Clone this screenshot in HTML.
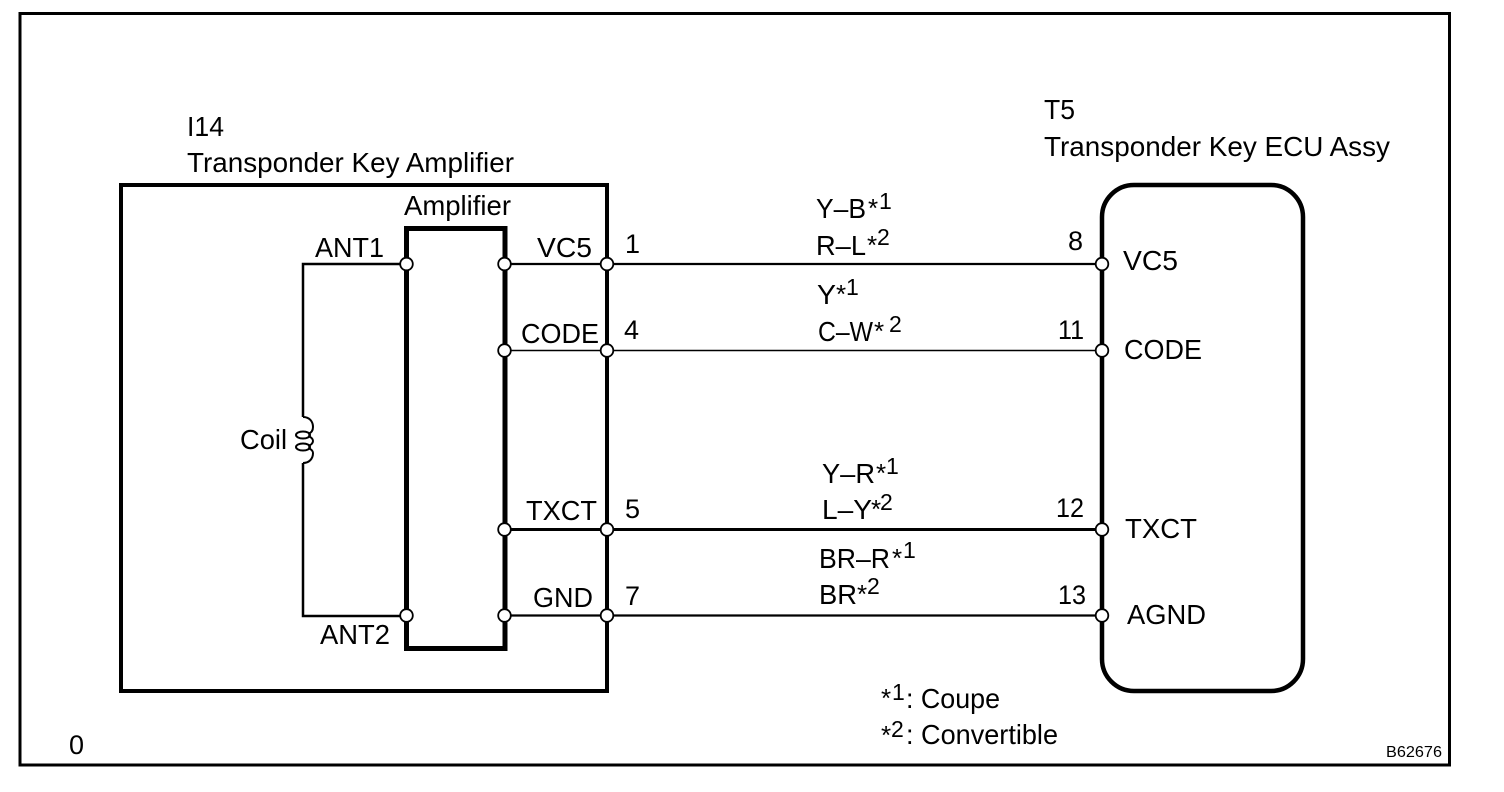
<!DOCTYPE html>
<html>
<head>
<meta charset="utf-8">
<style>
html,body{margin:0;padding:0;background:#fff;width:1504px;height:792px;overflow:hidden}
svg{display:block}
text{font-family:"Liberation Sans",Arial,sans-serif;fill:#000;font-size:28px}
.n{font-size:27px}
.st{font-size:26px}
.d{font-size:23px}
</style>
</head>
<body>
<svg width="1504" height="792" viewBox="0 0 1504 792" xmlns="http://www.w3.org/2000/svg">
<rect width="1504" height="792" fill="#fff"/>
<rect x="20" y="13.5" width="1429.5" height="751.5" fill="none" stroke="#000" stroke-width="3"/>
<!-- boxes -->
<rect x="121" y="185" width="486" height="506" fill="none" stroke="#000" stroke-width="4"/>
<rect x="406.5" y="228.5" width="98.5" height="420" fill="none" stroke="#000" stroke-width="5"/>
<rect x="1102" y="185" width="201" height="506" rx="32" ry="32" fill="none" stroke="#000" stroke-width="4.5"/>
<!-- wires -->
<g fill="none" stroke="#000">
<path d="M406 264H303V417M303 463V616H406" stroke-width="2.5"/>
<path d="M303 417C310 417 313 422 313 427C313 431 311 433 308 434M308 436C311 437 313 439 313 441C313 443 311 445 308 446M308 448C311 449 313 451 313 453C313 459 309 463 303 463" stroke-width="2"/>
<ellipse cx="303" cy="435" rx="7" ry="3.5" stroke-width="2"/>
<ellipse cx="303" cy="447" rx="7" ry="3.5" stroke-width="2"/>
<path d="M505 264H1102" stroke-width="2.2"/>
<path d="M505 350.5H1102" stroke-width="1.5"/>
<path d="M505 529.5H1102" stroke-width="3"/>
<path d="M505 615.5H1102" stroke-width="2.2"/>
</g>
<!-- terminals -->
<g fill="#fff" stroke="#000" stroke-width="1.8">
<circle cx="406.5" cy="264" r="6.3"/><circle cx="504.5" cy="264" r="6.3"/><circle cx="607" cy="264" r="6.3"/><circle cx="1102" cy="264" r="6.3"/>
<circle cx="504.5" cy="350.5" r="6.3"/><circle cx="607" cy="350.5" r="6.3"/><circle cx="1102" cy="350.5" r="6.3"/>
<circle cx="504.5" cy="529.5" r="6.3"/><circle cx="607" cy="529.5" r="6.3"/><circle cx="1102" cy="529.5" r="6.3"/>
<circle cx="406.5" cy="615.5" r="6.3"/><circle cx="504.5" cy="615.5" r="6.3"/><circle cx="607" cy="615.5" r="6.3"/><circle cx="1102" cy="615.5" r="6.3"/>
</g>
<!-- headings -->
<text x="187" y="136" textLength="37" lengthAdjust="spacingAndGlyphs">I14</text>
<text x="187" y="172" textLength="327" lengthAdjust="spacingAndGlyphs">Transponder Key Amplifier</text>
<text x="1044" y="119" textLength="31" lengthAdjust="spacingAndGlyphs">T5</text>
<text x="1044" y="156" textLength="346" lengthAdjust="spacingAndGlyphs">Transponder Key ECU Assy</text>
<text x="404" y="215" textLength="107" lengthAdjust="spacingAndGlyphs">Amplifier</text>
<!-- left labels -->
<text x="315" y="257" textLength="69" lengthAdjust="spacingAndGlyphs">ANT1</text>
<text x="320" y="644" textLength="70" lengthAdjust="spacingAndGlyphs">ANT2</text>
<text x="240" y="449" textLength="47" lengthAdjust="spacingAndGlyphs">Coil</text>
<text x="537" y="257" textLength="55" lengthAdjust="spacingAndGlyphs">VC5</text>
<text x="521" y="343" textLength="78" lengthAdjust="spacingAndGlyphs">CODE</text>
<text x="526" y="520" textLength="71" lengthAdjust="spacingAndGlyphs">TXCT</text>
<text x="533" y="607" textLength="60" lengthAdjust="spacingAndGlyphs">GND</text>
<text class="n" x="625" y="253">1</text>
<text class="n" x="624" y="339">4</text>
<text class="n" x="625" y="518">5</text>
<text class="n" x="625" y="605">7</text>
<!-- wire colours -->
<text x="816" y="218" textLength="50" lengthAdjust="spacingAndGlyphs">Y–B</text><text class="st" x="868" y="217">*</text><text class="d" x="879" y="209">1</text>
<text x="816" y="255" textLength="50" lengthAdjust="spacingAndGlyphs">R–L</text><text class="st" x="867" y="254">*</text><text class="d" x="877" y="245">2</text>
<text x="817" y="304" textLength="19" lengthAdjust="spacingAndGlyphs">Y</text><text class="st" x="836" y="303">*</text><text class="d" x="846" y="295">1</text>
<text x="818" y="341" textLength="55" lengthAdjust="spacingAndGlyphs">C–W</text><text class="st" x="874" y="340">*</text><text class="d" x="889" y="332">2</text>
<text x="822" y="483" textLength="53" lengthAdjust="spacingAndGlyphs">Y–R</text><text class="st" x="876" y="482">*</text><text class="d" x="886" y="474">1</text>
<text x="822" y="519" textLength="50" lengthAdjust="spacingAndGlyphs">L–Y</text><text class="st" x="871" y="518">*</text><text class="d" x="880" y="510">2</text>
<text x="819" y="568" textLength="71" lengthAdjust="spacingAndGlyphs">BR–R</text><text class="st" x="892" y="567">*</text><text class="d" x="903" y="558">1</text>
<text x="819" y="604" textLength="38" lengthAdjust="spacingAndGlyphs">BR</text><text class="st" x="857" y="603">*</text><text class="d" x="867" y="594">2</text>
<!-- right numbers -->
<text class="n" x="1068" y="250">8</text>
<text class="n" x="1058" y="339" textLength="26" lengthAdjust="spacingAndGlyphs">11</text>
<text class="n" x="1056" y="517" textLength="28" lengthAdjust="spacingAndGlyphs">12</text>
<text class="n" x="1058" y="604" textLength="28" lengthAdjust="spacingAndGlyphs">13</text>
<!-- right labels -->
<text x="1123" y="270" textLength="55" lengthAdjust="spacingAndGlyphs">VC5</text>
<text x="1124" y="359" textLength="78" lengthAdjust="spacingAndGlyphs">CODE</text>
<text x="1125" y="538" textLength="72" lengthAdjust="spacingAndGlyphs">TXCT</text>
<text x="1127" y="624" textLength="79" lengthAdjust="spacingAndGlyphs">AGND</text>
<!-- legend -->
<text class="st" x="881" y="707">*</text><text class="d" x="892" y="700">1</text>
<text x="906" y="708" textLength="94" lengthAdjust="spacingAndGlyphs">: Coupe</text>
<text class="st" x="881" y="744">*</text><text class="d" x="891" y="737">2</text>
<text x="906" y="744" textLength="152" lengthAdjust="spacingAndGlyphs">: Convertible</text>
<text class="n" x="69" y="754">0</text>
<text x="1386" y="757" style="font-size:16px" textLength="56" lengthAdjust="spacingAndGlyphs">B62676</text>
</svg>
</body>
</html>
